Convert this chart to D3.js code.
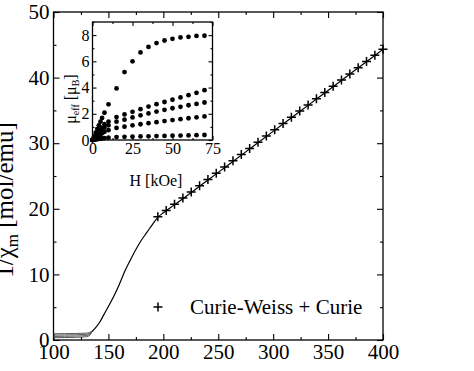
<!DOCTYPE html>
<html>
<head>
<meta charset="utf-8">
<script src="https://cdn.jsdelivr.net/npm/d3@7"></script>
<style>
  body { margin: 0; background: #fff; }
  text { font-family: "Liberation Serif", "Times New Roman", serif; fill: #000; }
</style>
</head>
<body>
<svg width="474" height="371"></svg>
<script>
// main panel: measured 1/chi vs T, several low-T branches that merge
const tempLow = [100, 110, 120, 126, 130, 133, 135];
const chiLowA = [0.95, 0.97, 1.0, 1.02, 1.05, 1.15, 1.3];
const chiLowB = [0.75, 0.77, 0.8, 0.83, 0.87, 1.0, 1.3];
const chiLowC = [0.55, 0.57, 0.6, 0.63, 0.68, 0.85, 1.3];
const chiLowD = [0.35, 0.37, 0.4, 0.44, 0.5, 0.7, 1.3];

const tempRise = [135, 138, 142, 146, 150, 155, 160, 165, 170, 175, 180, 185, 190, 195, 200,
  210, 220, 240, 260, 280, 300, 320, 340, 360, 380, 400];
const chiRise = [1.3, 1.8, 2.7, 3.9, 5.1, 6.7, 8.5, 10.5, 12.2, 13.8, 15.2, 16.4, 17.6, 18.7, 19.4,
  20.6, 21.8, 24.3, 26.8, 29.3, 31.8, 34.3, 36.8, 39.3, 41.8, 44.3];

// Curie-Weiss + Curie fit (crosses)
const tempFit = [195, 202.6, 210.2, 217.8, 225.4, 233, 240.6, 248.2, 255.8, 263.4, 271, 278.6,
  286.2, 293.8, 301.4, 309, 316.6, 324.2, 331.8, 339.4, 347, 354.6, 362.2, 369.8, 377.4, 385, 392.6, 400];
const chiFit = [18.8, 19.75, 20.69, 21.64, 22.58, 23.53, 24.48, 25.42, 26.37, 27.32, 28.26, 29.21,
  30.15, 31.1, 32.05, 32.99, 33.94, 34.89, 35.83, 36.78, 37.72, 38.67, 39.62, 40.56, 41.51, 42.46, 43.4, 44.32];

// inset: mu_eff vs H
const hField = [0, 1, 2, 3, 4, 5, 6, 7.5, 10, 15, 20, 25, 30, 35, 40, 45, 50, 55, 60, 65, 70];
const mu1 = [0, 0.28, 0.56, 0.84, 1.12, 1.4, 1.68, 2.08, 2.72, 3.93, 5.18, 6.0, 6.68, 7.1, 7.39, 7.59, 7.72, 7.82, 7.87, 7.94, 7.95];
const mu2 = [0, 0.17, 0.34, 0.5, 0.66, 0.8, 0.95, 1.2, 1.4, 1.75, 1.95, 2.15, 2.35, 2.55, 2.73, 2.9, 3.07, 3.25, 3.42, 3.6, 3.8];
const mu3 = [0, 0.13, 0.26, 0.39, 0.52, 0.64, 0.76, 0.95, 1.12, 1.4, 1.55, 1.72, 1.88, 2.03, 2.17, 2.3, 2.42, 2.53, 2.65, 2.75, 2.86];
const mu4 = [0, 0.09, 0.18, 0.27, 0.35, 0.43, 0.51, 0.63, 0.75, 0.92, 1.02, 1.12, 1.2, 1.28, 1.36, 1.44, 1.52, 1.59, 1.66, 1.73, 1.8];
const mu5 = [0, 0.02, 0.04, 0.06, 0.08, 0.1, 0.12, 0.15, 0.18, 0.22, 0.24, 0.25, 0.27, 0.28, 0.3, 0.31, 0.33, 0.34, 0.35, 0.37, 0.38];

const xTicks = [100, 150, 200, 250, 300, 350, 400];
const yTicks = [0, 10, 20, 30, 40, 50];
const hTicks = [0, 25, 50, 75];
const muTicks = [0, 2, 4, 6, 8];

const svg = d3.select("svg");

const x = d3.scaleLinear().domain([100, 400]).range([53.5, 383]);
const y = d3.scaleLinear().domain([0, 50]).range([340, 12]);

// inward ticks on all four sides
function frameAxes(g, xs, ys, xMaj, xMin, yMaj, yMin, major, minor, pad, fontSize) {
  const [x0, x1] = xs.range();
  const [y0, y1] = ys.range();
  const put = (axis, tx, ty, vals, size, labels) => {
    const a = g.append("g").attr("transform", `translate(${tx},${ty})`)
      .call(axis.tickValues(vals).tickSize(-size).tickPadding(pad)
        .tickFormat(labels ? d3.format("d") : ""));
    a.select(".domain").remove();
    a.selectAll("line").attr("stroke", "#000").attr("stroke-width", 1.1);
    a.selectAll("text").style("font-size", fontSize + "px");
    return a;
  };
  put(d3.axisBottom(xs), 0, y0, xMaj, major, true);
  put(d3.axisBottom(xs), 0, y0, xMin, minor, false);
  put(d3.axisTop(xs), 0, y1, xMaj, major, false);
  put(d3.axisTop(xs), 0, y1, xMin, minor, false);
  put(d3.axisLeft(ys), x0, 0, yMaj, major, true);
  put(d3.axisLeft(ys), x0, 0, yMin, minor, false);
  put(d3.axisRight(ys), x1, 0, yMaj, major, false);
  put(d3.axisRight(ys), x1, 0, yMin, minor, false);
  g.append("rect").attr("x", x0).attr("y", y1).attr("width", x1 - x0).attr("height", y0 - y1)
    .attr("fill", "none").attr("stroke", "#000").attr("stroke-width", 1.3);
}

frameAxes(svg.append("g"), x, y, xTicks, [125, 175, 225, 275, 325, 375], yTicks, [5, 15, 25, 35, 45], 6, 3, 4, 21);

const line = d3.line().x(d => x(d[0])).y(d => y(d[1])).curve(d3.curveMonotoneX);

[chiLowA, chiLowB, chiLowC, chiLowD].forEach(s => {
  svg.append("path").datum(d3.zip(tempLow, s)).attr("d", line)
    .attr("fill", "none").attr("stroke", "#444").attr("stroke-width", 0.9);
});
svg.append("path").datum(d3.zip(tempRise, chiRise)).attr("d", line)
  .attr("fill", "none").attr("stroke", "#000").attr("stroke-width", 1.2);

const plus = "M-4.5,0H4.5M0,-4.5V4.5";
svg.append("g").selectAll("path").data(d3.zip(tempFit, chiFit)).join("path")
  .attr("transform", d => `translate(${x(d[0])},${y(d[1])})`)
  .attr("d", plus).attr("stroke", "#000").attr("stroke-width", 1.5);

// legend
svg.append("path").attr("transform", "translate(158,307)").attr("d", plus)
  .attr("stroke", "#000").attr("stroke-width", 1.5);
svg.append("text").attr("x", 190).attr("y", 314).style("font-size", "21px").text("Curie-Weiss + Curie");

// y label (partly outside the left edge)
const yl = svg.append("text").attr("transform", "translate(13,200) rotate(-90)")
  .attr("text-anchor", "middle").style("font-size", "25px");
yl.append("tspan").text("1/χ");
yl.append("tspan").attr("dy", 5).style("font-size", "17px").text("m");
yl.append("tspan").attr("dy", -5).text(" [mol/emu]");

// inset
const ix = d3.scaleLinear().domain([0, 75]).range([92.5, 212.5]);
const iy = d3.scaleLinear().domain([0, 9]).range([140, 22]);
const inset = svg.append("g");
inset.append("rect").attr("x", 92.5).attr("y", 22).attr("width", 120).attr("height", 118).attr("fill", "#fff");
frameAxes(inset, ix, iy, hTicks, [12.5, 37.5, 62.5], muTicks, [1, 3, 5, 7, 9], 4, 2, 3, 16);

[mu1, mu2, mu3, mu4, mu5].forEach(s => {
  inset.append("g").selectAll("circle").data(d3.zip(hField, s)).join("circle")
    .attr("cx", d => ix(d[0])).attr("cy", d => iy(d[1])).attr("r", 2.4).attr("fill", "#000");
});

inset.append("text").attr("x", 156).attr("y", 186).attr("text-anchor", "middle")
  .style("font-size", "16px").text("H [kOe]");
const il = inset.append("text").attr("transform", "translate(76,99) rotate(-90)")
  .attr("text-anchor", "middle").style("font-size", "16px");
il.append("tspan").text("μ");
il.append("tspan").attr("dy", 3).style("font-size", "10px").text("eff");
il.append("tspan").attr("dy", -3).text(" [μ");
il.append("tspan").attr("dy", 3).style("font-size", "10px").text("B");
il.append("tspan").attr("dy", -3).text("]");
</script>
</body>
</html>
